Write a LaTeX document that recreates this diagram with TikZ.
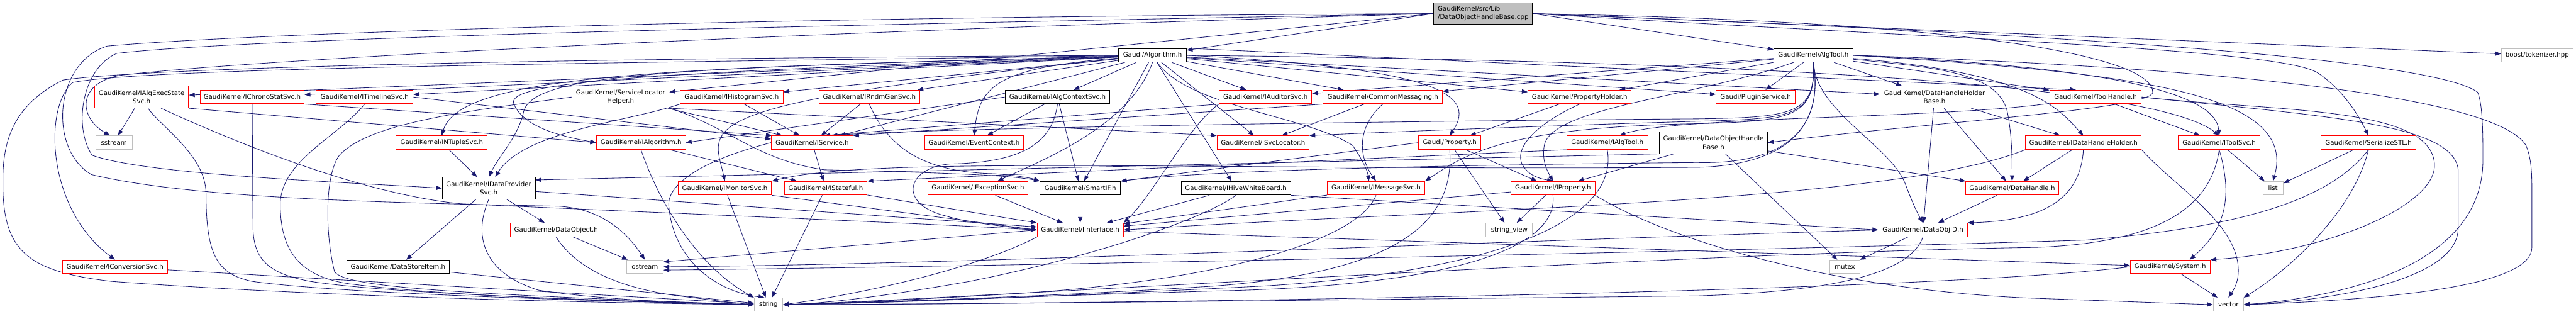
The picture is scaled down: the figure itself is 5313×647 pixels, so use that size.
\documentclass[tikz,border=0pt]{standalone}
\usepackage{fontspec}
\setmainfont{DejaVu Sans}
\usetikzlibrary{arrows.meta}
\pgfdeclarelayer{bg}
\pgfsetlayers{bg,main}
\definecolor{navy}{HTML}{191970}
\definecolor{gv}{HTML}{BFBFBF}
\definecolor{rd}{HTML}{FF0000}
\newcommand{\nf}{\fontsize{13.3pt}{17pt}\selectfont}
\tikzset{
  base/.style={rectangle, line width=1.3pt, font=\nf, inner sep=0pt, minimum height=28pt, text=black, align=center, fill=white},
  nr/.style={base, draw=rd},
  nb/.style={base, draw=black},
  ng/.style={base, draw=gv},
  e/.style={draw=navy, line width=1.1pt, -{Triangle[length=12pt,width=9pt]}}
}
\begin{document}
\begin{tikzpicture}[x=1pt,y=1pt]
\useasboundingbox (0,0) rectangle (5313,-647);
% rank 0
\node[nb, fill=gv, minimum width=204pt, minimum height=45pt, align=left] (R) at (3059,-28) {GaudiKernel/src/Lib\\/DataObjectHandleBase.cpp};
% rank 1
\node[nb, minimum width=140pt] (alg) at (2377,-114) {Gaudi/Algorithm.h};
\node[nb, minimum width=163pt] (algtool) at (3740,-114) {GaudiKernel/AlgTool.h};
\node[ng, minimum width=148pt] (boost) at (5233,-114) {boost/tokenizer.hpp};
% rank 2
\node[nr, minimum width=194pt, minimum height=45pt] (iaes) at (292,-200) {GaudiKernel/IAlgExecState\\Svc.h};
\node[nr, minimum width=215pt] (ichrono) at (520,-200) {GaudiKernel/IChronoStatSvc.h};
\node[nr, minimum width=200pt] (itime) at (752,-200) {GaudiKernel/ITimelineSvc.h};
\node[nr, minimum width=200pt, minimum height=45pt] (slh) at (1280,-200) {GaudiKernel/ServiceLocator\\Helper.h};
\node[nr, minimum width=212pt] (ihist) at (1509,-200) {GaudiKernel/IHistogramSvc.h};
\node[nr, minimum width=208pt] (irndm) at (1793,-200) {GaudiKernel/IRndmGenSvc.h};
\node[nb, minimum width=216pt] (iactx) at (2181,-200) {GaudiKernel/IAlgContextSvc.h};
\node[nr, minimum width=191pt] (iaud) at (2610,-200) {GaudiKernel/IAuditorSvc.h};
\node[nr, minimum width=246pt] (cmsg) at (2852,-200) {GaudiKernel/CommonMessaging.h};
\node[nr, minimum width=213pt] (pholder) at (3258,-200) {GaudiKernel/PropertyHolder.h};
\node[nr, minimum width=163pt] (plugin) at (3621,-200) {Gaudi/PluginService.h};
\node[nr, minimum width=225pt, minimum height=45pt] (dhhb) at (3990,-200) {GaudiKernel/DataHandleHolder\\Base.h};
\node[nr, minimum width=189pt] (toolh) at (4322,-200) {GaudiKernel/ToolHandle.h};
% rank 3
\node[ng, minimum width=75pt] (nsstream) at (235,-294) {sstream};
\node[nr, minimum width=188pt] (intuple) at (911,-294) {GaudiKernel/INTupleSvc.h};
\node[nr, minimum width=184pt] (ialg) at (1322,-294) {GaudiKernel/IAlgorithm.h};
\node[nr, minimum width=168pt] (iservice) at (1675,-294) {GaudiKernel/IService.h};
\node[nr, minimum width=204pt] (evctx) at (2009,-294) {GaudiKernel/EventContext.h};
\node[nr, minimum width=190pt] (isvcloc) at (2605,-294) {GaudiKernel/ISvcLocator.h};
\node[nr, minimum width=128pt] (prop) at (2990,-294) {Gaudi/Property.h};
\node[nr, minimum width=167pt] (ialgtool) at (3315,-294) {GaudiKernel/IAlgTool.h};
\node[nb, minimum width=223pt, minimum height=45pt] (dohb) at (3534,-294) {GaudiKernel/DataObjectHandle\\Base.h};
\node[nr, minimum width=239pt] (idhh) at (4297,-294) {GaudiKernel/IDataHandleHolder.h};
\node[nr, minimum width=169pt] (itoolsvc) at (4577,-294) {GaudiKernel/IToolSvc.h};
\node[nr, minimum width=195pt] (sstl) at (4885,-294) {GaudiKernel/SerializeSTL.h};
% rank 4
\node[nb, minimum width=192pt, minimum height=45pt] (idps) at (1008,-388) {GaudiKernel/IDataProvider\\Svc.h};
\node[nr, minimum width=193pt] (imon) at (1495,-388) {GaudiKernel/IMonitorSvc.h};
\node[nr, minimum width=171pt] (istate) at (1703,-388) {GaudiKernel/IStateful.h};
\node[nr, minimum width=207pt] (iexc) at (2017,-388) {GaudiKernel/IExceptionSvc.h};
\node[nb, minimum width=166pt] (smartif) at (2228,-388) {GaudiKernel/SmartIF.h};
\node[nb, minimum width=226pt] (ihive) at (2549,-388) {GaudiKernel/IHiveWhiteBoard.h};
\node[nr, minimum width=201pt] (imsg) at (2838,-388) {GaudiKernel/IMessageSvc.h};
\node[nr, minimum width=173pt] (iprop) at (3203,-388) {GaudiKernel/IProperty.h};
\node[nr, minimum width=193pt] (dh) at (4150,-388) {GaudiKernel/DataHandle.h};
\node[ng, minimum width=42pt] (nlist) at (4688,-388) {list};
% rank 5
\node[nr, minimum width=190pt] (dobj) at (1147,-474) {GaudiKernel/DataObject.h};
\node[nr, minimum width=178pt] (iint) at (2228,-474) {GaudiKernel/IInterface.h};
\node[ng, minimum width=96pt] (sview) at (3113,-474) {string\_view};
\node[nr, minimum width=183pt] (doid) at (3966,-474) {GaudiKernel/DataObjID.h};
% rank 6
\node[nr, minimum width=217pt] (iconv) at (237,-550) {GaudiKernel/IConversionSvc.h};
\node[nb, minimum width=211pt] (dsi) at (821,-550) {GaudiKernel/DataStoreItem.h};
\node[ng, minimum width=75pt] (nostream) at (1330,-550) {ostream};
\node[ng, minimum width=63pt] (nmutex) at (3805,-550) {mutex};
\node[nr, minimum width=165pt] (system) at (4476,-550) {GaudiKernel/System.h};
% rank 7
\node[ng, minimum width=59pt] (nstring) at (1585,-628) {string};
\node[ng, minimum width=62pt] (nvector) at (4596,-628) {vector};

\begin{pgfonlayer}{bg}
\fill[white] (0,0) rectangle (5313,-647);
% root
\draw[e] (R.west) -- (alg);
\draw[e] (R.east) -- (algtool);
\draw[e] (R.east) -- (boost);
\draw[e] (R.west) -- (slh);
\draw[e] (R.east) .. controls (4100,-45) and (4440,-120) .. (4440,-190) .. controls (4440,-225) and (4000,-250) .. (dohb.east);
\draw[e] (R.west) .. controls (1500,-55) and (500,-80) .. (241,-110) .. controls (170,-140) and (150,-260) .. (190,-320) .. controls (300,-360) and (700,-375) .. (idps.west);
\draw[e] (R.west) .. controls (1500,-70) and (500,-125) .. (250,-155) .. controls (160,-170) and (160,-240) .. (nsstream.120);
\draw[e] (R.west) .. controls (1500,-35) and (500,-70) .. (221,-95) .. controls (110,-130) and (100,-310) .. (189,-360) .. controls (400,-410) and (800,-418) .. (1150,-425) .. controls (1250,-430) and (1300,-490) .. (nostream.north);
\draw[e] (R.east) .. controls (4000,-80) and (4700,-100) .. (4780,-150) .. controls (4840,-190) and (4870,-250) .. (sstl.north);
\draw[e] (R.east) .. controls (4000,-60) and (5000,-110) .. (5110,-190) .. controls (5121,-215) and (5121,-280) .. (5121,-330) .. controls (5121,-560) and (4800,-615) .. (nvector.east);
% Algorithm
\draw[e] (alg) -- (iaes);
\draw[e] (alg) -- (ichrono);
\draw[e] (alg) -- (itime);
\draw[e] (alg) -- (ihist);
\draw[e] (alg) -- (irndm);
\draw[e] (alg) -- (iactx);
\draw[e] (alg) -- (iaud);
\draw[e] (alg) -- (cmsg);
\draw[e] (alg) -- (pholder);
\draw[e] (alg) -- (plugin);
\draw[e] (alg) -- (dhhb);
\draw[e] (alg.north east) -- (toolh.160);
\draw[e] (alg) .. controls (1400,-140) and (950,-150) .. (intuple.north);
\draw[e] (alg) .. controls (1300,-150) and (1040,-170) .. (1060,-215) .. controls (1080,-260) and (1150,-280) .. (ialg.west);
\draw[e] (alg) -- (iservice);
\draw[e] (alg) .. controls (2050,-140) and (2020,-180) .. (evctx.north);
\draw[e] (alg) -- (isvcloc);
\draw[e] (alg.east) .. controls (2950,-140) and (3050,-190) .. (prop.north);
\draw[e] (alg) .. controls (1400,-140) and (1100,-150) .. (1080,-230) .. controls (1070,-280) and (1030,-320) .. (idps.north);
\draw[e] (alg) .. controls (1400,-215) and (1470,-260) .. (imon.north);
\draw[e] (alg.south) .. controls (2330,-260) and (2150,-330) .. (iexc.20);
\draw[e] (alg) -- (smartif);
\draw[e] (alg) -- (ihive);
\draw[e] (alg) .. controls (2450,-220) and (2700,-240) .. (2790,-300) .. controls (2810,-330) and (2820,-350) .. (imsg.135);
\draw[e] (alg) .. controls (1200,-130) and (300,-140) .. (150,-170) .. controls (90,-220) and (95,-430) .. (iconv.north);
\draw[e] (alg) .. controls (1100,-120) and (300,-140) .. (130,-165) .. controls (20,-220) and (5,-300) .. (6,-380) .. controls (6,-520) and (60,-560) .. (230,-580) .. controls (700,-615) and (1300,-625) .. (nstring.west);
\draw[e] (alg.east) .. controls (3000,-120) and (4400,-140) .. (itoolsvc.north);
% AlgTool
\draw[e] (algtool) -- (plugin);
\draw[e] (algtool) -- (dhhb);
\draw[e] (algtool) -- (toolh);
\draw[e] (algtool) .. controls (4200,-150) and (4250,-230) .. (idhh.north);
\draw[e] (algtool.east) .. controls (4400,-140) and (4570,-200) .. (itoolsvc.north);
\draw[e] (algtool) -- (iaud);
\draw[e] (algtool) -- (cmsg);
\draw[e] (algtool) -- (pholder);
\draw[e] (algtool.south) .. controls (3745,-240) and (3700,-245) .. (3500,-250) .. controls (3100,-262) and (2800,-275) .. (isvcloc.north east);
\draw[e] (algtool.south) .. controls (3745,-235) and (3700,-242) .. (3500,-245) .. controls (2800,-250) and (1900,-265) .. (iservice.20);
\draw[e] (algtool.south) .. controls (3745,-240) and (3700,-250) .. (3500,-255) .. controls (3100,-262) and (3020,-320) .. (imsg.north east);
\draw[e] (algtool) .. controls (3500,-200) and (3200,-220) .. (3185,-300) .. controls (3180,-330) and (3190,-350) .. (iprop.north);
\draw[e] (algtool.south) .. controls (3760,-250) and (3700,-340) .. (3500,-345) .. controls (2500,-352) and (1800,-320) .. (imon.north east);
\draw[e] (algtool.south) .. controls (3760,-250) and (3700,-340) .. (3500,-335) .. controls (3000,-340) and (2500,-350) .. (smartif.north east);
\draw[e] (algtool) .. controls (4000,-140) and (4120,-150) .. (4140,-230) .. controls (4150,-280) and (4150,-330) .. (dh.north);
\draw[e] (algtool.south) .. controls (3745,-230) and (3900,-300) .. (3930,-380) .. controls (3945,-420) and (3955,-440) .. (doid.north);
\draw[e] (algtool.east) .. controls (4400,-150) and (4740,-190) .. (nlist.north);
\draw[e] (algtool.east) .. controls (4600,-140) and (5150,-200) .. (5210,-300) .. controls (5222,-330) and (5222,-360) .. (5222,-400) -- (5222,-510) .. controls (5222,-580) and (5000,-615) .. (nvector.east);
% ToolHandle
\draw[e] (toolh) .. controls (4000,-245) and (3450,-240) .. (ialgtool.30);
\draw[e] (toolh) -- (itoolsvc);
\draw[e] (toolh.east) .. controls (4700,-230) and (5000,-220) .. (5020,-330) .. controls (5040,-420) and (4800,-520) .. (system.north east);
\draw[e] (toolh.east) .. controls (4800,-240) and (5060,-255) .. (5070,-350) -- (5070,-470) .. controls (5070,-580) and (4800,-620) .. (nvector.east);
% DataHandleHolderBase
\draw[e] (dhhb) -- (doid);
\draw[e] (dhhb) -- (dh);
\draw[e] (dhhb) -- (idhh);
% IDataHandleHolder
\draw[e] (idhh) -- (dh);
\draw[e] (idhh.south) .. controls (4290,-420) and (4200,-455) .. (doid.north east);
\draw[e] (idhh.south west) .. controls (3900,-420) and (3000,-430) .. (iint.east);
\draw[e] (idhh.south east) .. controls (4480,-380) and (4600,-450) .. (4615,-540) .. controls (4620,-570) and (4612,-590) .. (nvector.north);
% DataObjectHandleBase
\draw[e] (dohb) -- (dh);
\draw[e] (dohb) -- (nmutex);
\draw[e] (dohb) -- (iprop);
\draw[e] (dohb.south west) -- (idps.10);
% IAlgTool
\draw[e] (ialgtool.south west) -- (istate.north east);
\draw[e] (ialgtool.south) .. controls (3340,-450) and (3100,-560) .. (2600,-590) .. controls (2100,-615) and (1800,-625) .. (nstring.east);
% Property
\draw[e] (prop) -- (iprop);
\draw[e] (prop) -- (sview);
\draw[e] (prop.south) .. controls (3000,-450) and (2900,-560) .. (2500,-590) .. controls (2100,-615) and (1800,-622) .. (nstring.east);
\draw[e] (prop.west) -- (smartif.north east);
% PropertyHolder
\draw[e] (pholder) -- (prop);
\draw[e] (pholder.south) .. controls (3180,-250) and (3120,-300) .. (3140,-340) .. controls (3150,-355) and (3160,-365) .. (iprop.north);
% CommonMessaging
\draw[e] (cmsg.south) .. controls (2800,-260) and (2800,-320) .. (imsg.north);
\draw[e] (cmsg) -- (isvcloc);
\draw[e] (cmsg.south west) -- (iservice.north east);
% IAuditorSvc
\draw[e] (iaud.south west) -- (iservice.30);
\draw[e] (iaud.south west) .. controls (2450,-260) and (2380,-400) .. (iint.north east);
% IAlgContextSvc
\draw[e] (iactx.west) -- (ialg.east);
\draw[e] (iactx) -- (evctx);
\draw[e] (iactx) -- (smartif);
\draw[e] (iactx.south) .. controls (2170,-300) and (2100,-335) .. (1960,-338) .. controls (1870,-345) and (1850,-420) .. (1950,-445) .. controls (2000,-460) and (2080,-468) .. (iint.west);
% IRndmGenSvc
\draw[e] (irndm) -- (iservice);
\draw[e] (irndm.south) .. controls (1830,-300) and (1900,-355) .. (2050,-358) .. controls (2100,-362) and (2130,-368) .. (smartif.north west);
% IHistogramSvc
\draw[e] (ihist.south west) .. controls (1300,-250) and (1080,-270) .. (idps.60);
\draw[e] (ihist) -- (iservice);
% ServiceLocatorHelper
\draw[e] (slh) -- (iservice);
\draw[e] (slh.south east) -- (isvcloc.north west);
\draw[e] (slh.south east) .. controls (1500,-260) and (1560,-330) .. (1700,-350) .. controls (1900,-355) and (2080,-360) .. (smartif.north west);
\draw[e] (slh.west) .. controls (950,-230) and (760,-255) .. (700,-320) .. controls (670,-360) and (670,-480) .. (690,-560) .. controls (710,-590) and (900,-605) .. (nstring.west);
% IAlgExecStateSvc
\draw[e] (iaes) -- (nsstream.60);
\draw[e] (iaes.-60) .. controls (330,-260) and (425,-320) .. (425,-400) .. controls (425,-530) and (450,-565) .. (520,-580) .. controls (700,-605) and (1200,-620) .. (nstring.west);
\draw[e] (iaes.south east) -- (ialg.west);
\draw[e] (iaes.-30) .. controls (500,-300) and (750,-400) .. (950,-420) .. controls (1500,-445) and (1900,-460) .. (iint.west);
% IChronoStatSvc
\draw[e] (ichrono.south) .. controls (521,-300) and (521,-420) .. (522,-475) .. controls (525,-540) and (560,-565) .. (640,-580) .. controls (800,-605) and (1200,-618) .. (nstring.west);
\draw[e] (ichrono.south east) -- (iservice.170);
% ITimelineSvc
\draw[e] (itime.south) .. controls (700,-280) and (580,-330) .. (578,-420) .. controls (578,-520) and (620,-570) .. (720,-585) .. controls (900,-608) and (1200,-620) .. (nstring.west);
\draw[e] (itime.east) -- (iservice.175);
% INTupleSvc
\draw[e] (intuple) -- (idps);
% IDataProviderSvc
\draw[e] (idps) -- (dobj);
\draw[e] (idps) -- (dsi);
\draw[e] (idps) -- (iint);
\draw[e] (idps.south) .. controls (978,-480) and (990,-560) .. (1110,-598) .. controls (1250,-620) and (1450,-625) .. (nstring.west);
% DataObject
\draw[e] (dobj) -- (nostream);
\draw[e] (dobj.south) .. controls (1180,-540) and (1250,-590) .. (1400,-610) .. controls (1480,-620) and (1520,-625) .. (nstring.west);
% IAlgorithm
\draw[e] (ialg) -- (istate);
\draw[e] (ialg.south) .. controls (1360,-420) and (1440,-550) .. (nstring.north west);
% IService
\draw[e] (iservice) -- (istate);
\draw[e] (iservice.west) .. controls (1450,-330) and (1370,-380) .. (1380,-430) .. controls (1390,-530) and (1470,-600) .. (nstring.120);
% IMonitorSvc
\draw[e] (imon) -- (nstring);
\draw[e] (imon.south east) -- (iint.west);
% IStateful
\draw[e] (istate) -- (nstring);
\draw[e] (istate) -- (iint);
% IExceptionSvc, SmartIF
\draw[e] (iexc) -- (iint);
\draw[e] (smartif) -- (iint);
% IHiveWhiteBoard
\draw[e] (ihive) -- (iint);
\draw[e] (ihive.south) .. controls (2500,-440) and (2300,-520) .. (2000,-580) .. controls (1800,-615) and (1700,-625) .. (nstring.east);
\draw[e] (ihive.south east) -- (doid.west);
% IMessageSvc
\draw[e] (imsg) -- (iint);
\draw[e] (imsg.south) .. controls (2800,-500) and (2500,-580) .. (2100,-605) .. controls (1850,-620) and (1700,-626) .. (nstring.east);
% IProperty
\draw[e] (iprop) -- (iint);
\draw[e] (iprop) -- (sview);
\draw[e] (iprop.south) .. controls (3215,-510) and (3000,-590) .. (2500,-600) .. controls (2000,-615) and (1750,-626) .. (nstring.east);
\draw[e] (iprop.south east) .. controls (3450,-500) and (3800,-600) .. (4200,-615) .. controls (4400,-622) and (4500,-626) .. (nvector.west);
% DataHandle
\draw[e] (dh) -- (doid);
% DataObjID
\draw[e] (doid) -- (nmutex);
\draw[e] (doid.south) .. controls (3940,-560) and (3800,-600) .. (3500,-610) .. controls (2600,-620) and (1900,-628) .. (nstring.east);
\draw[e] (doid.west) .. controls (3000,-500) and (2000,-545) .. (nostream.east);
% IInterface
\draw[e] (iint.west) -- (nostream.15);
\draw[e] (iint.south west) .. controls (2000,-560) and (1750,-610) .. (nstring.east);
\draw[e] (iint) -- (system);
% System
\draw[e] (system) -- (nvector);
\draw[e] (system.west) .. controls (4000,-600) and (2500,-625) .. (nstring.east);
% DataStoreItem, IConversionSvc
\draw[e] (dsi) -- (nstring);
\draw[e] (iconv) -- (nstring);
% SerializeSTL
\draw[e] (sstl) -- (nlist);
\draw[e] (sstl.south) .. controls (4850,-450) and (4700,-570) .. (nvector.north east);
\draw[e] (sstl.south) .. controls (4800,-420) and (4600,-470) .. (4300,-495) .. controls (3500,-520) and (2000,-550) .. (nostream.-10);
% IToolSvc
\draw[e] (itoolsvc) -- (nlist);
\draw[e] (itoolsvc.south) .. controls (4610,-420) and (4580,-480) .. (system.20);
\draw[e] (itoolsvc.south) .. controls (4560,-430) and (4450,-500) .. (4200,-510) .. controls (3500,-520) and (2000,-615) .. (nstring.east);
\end{pgfonlayer}
\end{tikzpicture}
\end{document}
